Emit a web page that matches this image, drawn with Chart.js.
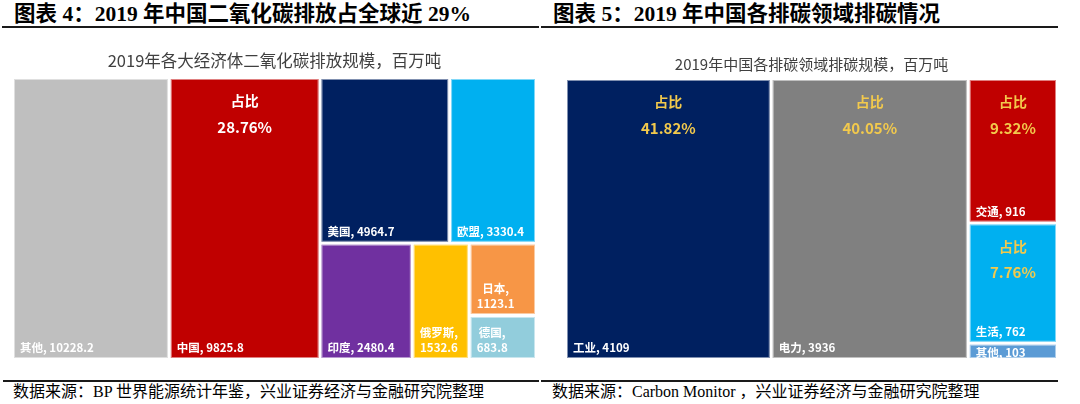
<!DOCTYPE html>
<html>
<head>
<meta charset="utf-8">
<script src="https://cdn.jsdelivr.net/npm/chart.js@4.4.1/dist/chart.umd.min.js"></script>
<style>
  body { margin: 0; width: 1080px; height: 404px; position: relative; background: #fff; overflow: hidden; }
  .hdr { position: absolute; font-family: "Liberation Serif", "Noto Sans CJK SC", serif; font-weight: bold; font-size: 21.5px; color: #000; white-space: nowrap; line-height: 24px; }
  .src { position: absolute; font-family: "Liberation Serif", "Noto Sans CJK SC", serif; font-size: 16px; color: #000; white-space: nowrap; line-height: 20px; }
  .rule { position: absolute; height: 2px; background: #1a1a1a; }
  .wrap { position: absolute; }
</style>
</head>
<body>
<div class="hdr" style="left:14px;top:2px">图表 4：2019 年中国二氧化碳排放占全球近 29%</div>
<div class="hdr" style="left:553px;top:2px">图表 5：2019 年中国各排碳领域排碳情况</div>
<div class="rule" style="left:2px;top:26px;width:537px"></div>
<div class="rule" style="left:541px;top:26px;width:517px"></div>

<div class="wrap" style="left:0;top:44px;width:540px;height:320px"><canvas id="econChart"></canvas></div>
<div class="wrap" style="left:540px;top:44px;width:540px;height:320px"><canvas id="sectorChart"></canvas></div>

<div class="rule" style="left:3px;top:380px;width:536px"></div>
<div class="rule" style="left:541px;top:380px;width:517px"></div>
<div class="src" style="left:13px;top:382px">数据来源：BP 世界能源统计年鉴，兴业证券经济与金融研究院整理</div>
<div class="src" style="left:552px;top:382px">数据来源：Carbon Monitor ，兴业证券经济与金融研究院整理</div>

<script>
// 2019 CO2 emissions by economy, million tonnes
const econLabels = ["其他", "中国", "美国", "欧盟", "印度", "俄罗斯", "日本", "德国"];
const econValues = [10228.2, 9825.8, 4964.7, 3330.4, 2480.4, 1532.6, 1123.1, 683.8];
const econShares = [null, "28.76%", null, null, null, null, null, null];
const econColors = ["#BFBFBF", "#C00000", "#002060", "#00B0F0", "#7030A0", "#FFC000", "#F79646", "#92CDDC"];

// 2019 China emissions by sector, million tonnes
const sectorLabels = ["工业", "电力", "交通", "生活", "其他"];
const sectorValues = [4109, 3936, 916, 762, 103];
const sectorShares = ["41.82%", "40.05%", "9.32%", "7.76%", null];
const sectorColors = ["#002060", "#808080", "#C00000", "#00B0F0", "#5B9BD5"];

const CJK = '"Noto Sans CJK SC", "Noto Sans", sans-serif';

// worst aspect ratio of a row laid along a side
const worst = (row, side) => {
  const s = row.reduce((a, b) => a + b, 0);
  let w = 0;
  row.forEach((r) => {
    w = Math.max(w, (side * side * r) / (s * s), (s * s) / (side * side * r));
  });
  return w;
};

// squarified treemap, returns boxes in the same order as values
// a row only grows when it clearly improves (3% margin)
const squarify = (values, width, height) => {
  const total = values.reduce((a, b) => a + b, 0);
  const areas = values.map((v) => (v * width * height) / total);
  const boxes = [];
  let x0 = 0, y0 = 0, w = width, h = height;
  let i = 0;
  while (i < areas.length) {
    const side = Math.min(w, h);
    let row = [areas[i]];
    let j = i + 1;
    while (j < areas.length) {
      const next = row.concat(areas[j]);
      if (worst(next, side) < worst(row, side) * 0.97) { row = next; j++; } else break;
    }
    const sum = row.reduce((a, b) => a + b, 0);
    if (w >= h) {
      const t = sum / h;
      let yy = y0;
      row.forEach((a) => { boxes.push({ x: x0, y: yy, w: t, h: a / t }); yy += a / t; });
      x0 += t; w -= t;
    } else {
      const t = sum / w;
      let xx = x0;
      row.forEach((a) => { boxes.push({ x: xx, y: y0, w: a / t, h: t }); xx += a / t; });
      y0 += t; h -= t;
    }
    i = j;
  }
  return boxes;
};

const treemapPlugin = {
  id: "treemap",
  afterDatasetsDraw(chart, args, opts) {
    const { ctx, chartArea: area, scales } = chart;
    const boxes = squarify(opts.values, area.width, area.height);
    const g = 1.5;
    boxes.forEach((b, i) => {
      const left = scales.x.getPixelForValue(b.x / area.width);
      const right = scales.x.getPixelForValue((b.x + b.w) / area.width);
      const top = scales.y.getPixelForValue(b.y / area.height);
      const bottom = scales.y.getPixelForValue((b.y + b.h) / area.height);
      const rx = left + g, ry = top + g, rw = right - left - 2 * g, rh = bottom - top - 2 * g;

      ctx.save();
      ctx.fillStyle = opts.colors[i];
      ctx.fillRect(rx, ry, rw, rh);
      ctx.strokeStyle = "rgba(255,255,255,0.5)";
      ctx.lineWidth = 1;
      ctx.strokeRect(rx + 0.5, ry + 0.5, rw - 1, rh - 1);
      ctx.beginPath();
      ctx.rect(rx, ry, rw, rh);
      ctx.clip();
      ctx.textBaseline = "middle";

      // share text in the upper middle
      if (opts.shares[i]) {
        ctx.fillStyle = opts.shareColor;
        ctx.textAlign = "center";
        ctx.font = "bold 14px " + CJK;
        ctx.fillText("占比", rx + rw / 2, ry + 22);
        ctx.font = "bold 15px " + CJK;
        ctx.fillText(opts.shares[i], rx + rw / 2, ry + 48);
      }

      // name, value at the bottom left
      ctx.fillStyle = "#fff";
      ctx.textAlign = "left";
      ctx.font = "bold 11.5px " + CJK;
      const one = opts.labels[i] + ", " + opts.values[i];
      let lines = [one];
      if (ctx.measureText(one).width + 12 > rw) lines = [opts.labels[i] + ",", String(opts.values[i])];
      const widths = lines.map((l) => ctx.measureText(l).width);
      const blockW = Math.max(...widths);
      const lh = 15;
      const lastY = rh < 30 ? ry + rh / 2 + 1 : ry + rh - 10;
      lines.forEach((l, k) => {
        const yy = lastY - (lines.length - 1 - k) * lh;
        ctx.fillText(l, rx + 6 + (blockW - widths[k]) / 2, yy);
      });
      ctx.restore();
    });
  },
};

const makeTreemap = (canvasId, title, titleSize, titlePad, pad, tree) => {
  return new Chart(document.getElementById(canvasId), {
    type: "scatter",
    data: { datasets: [{ data: [] }] },
    options: {
      responsive: true,
      maintainAspectRatio: false,
      animation: false,
      layout: { padding: pad },
      scales: {
        x: { type: "linear", min: 0, max: 1, display: false },
        y: { type: "linear", min: 0, max: 1, reverse: true, display: false },
      },
      plugins: {
        legend: { display: false },
        tooltip: { enabled: false },
        title: {
          display: true,
          text: title,
          color: "#404040",
          font: { family: CJK, size: titleSize, weight: "normal", lineHeight: 1.2 },
          padding: titlePad,
        },
        treemap: tree,
      },
    },
    plugins: [treemapPlugin],
  });
};

makeTreemap(
  "econChart",
  "2019年各大经济体二氧化碳排放规模，百万吨",
  16.5,
  { top: 6.5, bottom: 6.5 },
  { left: 12.5, right: 3.5, top: 0.7, bottom: 4.5 },
  { labels: econLabels, values: econValues, shares: econShares, colors: econColors, shareColor: "#ffffff" }
);

makeTreemap(
  "sectorChart",
  "2019年中国各排碳领域排碳规模，百万吨",
  15,
  { top: 11, bottom: 4.8 },
  { left: 25.5, right: 22.5, top: 0.7, bottom: 4.5 },
  { labels: sectorLabels, values: sectorValues, shares: sectorShares, colors: sectorColors, shareColor: "#F2C94C" }
);
</script>
</body>
</html>
